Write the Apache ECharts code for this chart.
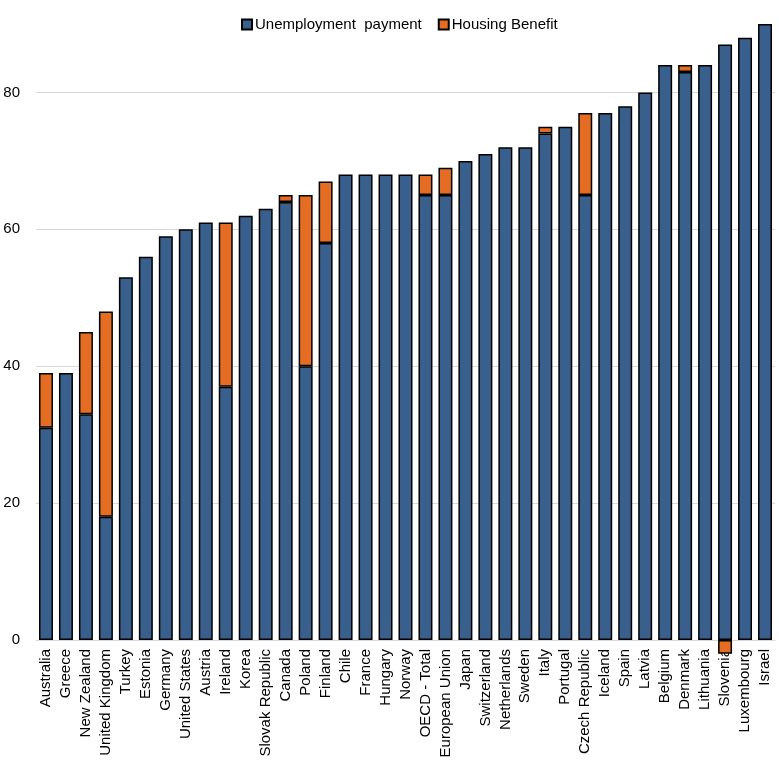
<!DOCTYPE html>
<html>
<head>
<meta charset="utf-8">
<script src="https://cdn.jsdelivr.net/npm/echarts@6/dist/echarts.min.js"></script>
<style>html,body{margin:0;padding:0;background:#fff}#c{width:779px;height:765px}</style>
</head>
<body>
<div id="c"></div>
<script>
const categories = ["Australia","Greece","New Zealand","United Kingdom","Turkey","Estonia","Germany","United States","Austria","Ireland","Korea","Slovak Republic","Canada","Poland","Finland","Chile","France","Hungary","Norway","OECD - Total","European Union","Japan","Switzerland","Netherlands","Sweden","Italy","Portugal","Czech Republic","Iceland","Spain","Latvia","Belgium","Denmark","Lithuania","Slovenia","Luxembourg","Israel"];
const unemployment = [31,39,33,18,53,56,59,60,61,37,62,63,64,40,58,68,68,68,68,65,65,70,71,72,72,74,75,65,77,78,80,84,83,84,87,88,90];
const housing = [8,0,12,30,0,0,0,0,0,24,0,0,1,25,9,0,0,0,0,3,4,0,0,0,0,1,0,12,0,0,0,0,1,0,-2,0,0];
const yTicks = {min:0, max:90, interval:20};

const font = "'Liberation Sans', Arial, sans-serif";
const chart = echarts.init(document.getElementById('c'));
chart.setOption({
  animation:false,
  textStyle:{fontFamily:font},
  legend:{
    top:12, left:236, itemWidth:10, itemHeight:10, itemGap:16,
    icon:'rect',
    textStyle:{fontFamily:font, fontSize:15, color:'#000', padding:[0,0,0,-2]},
    data:['Unemployment  payment','Housing Benefit']
  },
  grid:{left:36, right:4, top:24, bottom:125, containLabel:false},
  xAxis:{
    type:'category', data:categories,
    axisLine:{lineStyle:{color:'#d9d9d9'}},
    axisTick:{show:false},
    axisLabel:{rotate:90, interval:0, margin:9, color:'#000', fontSize:15, fontFamily:font}
  },
  yAxis:{
    type:'value', min:yTicks.min, max:yTicks.max, interval:yTicks.interval,
    axisLine:{show:false}, axisTick:{show:false},
    axisLabel:{color:'#000', fontSize:15, margin:16, showMaxLabel:false, fontFamily:font},
    splitLine:{lineStyle:{color:'#d9d9d9'}, showMaxLine:false}
  },
  series:[
    {name:'Unemployment  payment', type:'bar', stack:'a', data:unemployment, barWidth:'70%', clip:false,
     itemStyle:{color:'#395F8D', borderColor:'#000', borderWidth:1.5}},
    {name:'Housing Benefit', type:'bar', stack:'a', clip:false,
     data:housing.map(v=>v===0?null:v),
     itemStyle:{color:'#E46C23', borderColor:'#000', borderWidth:1.5}}
  ]
});
</script>
</body>
</html>
